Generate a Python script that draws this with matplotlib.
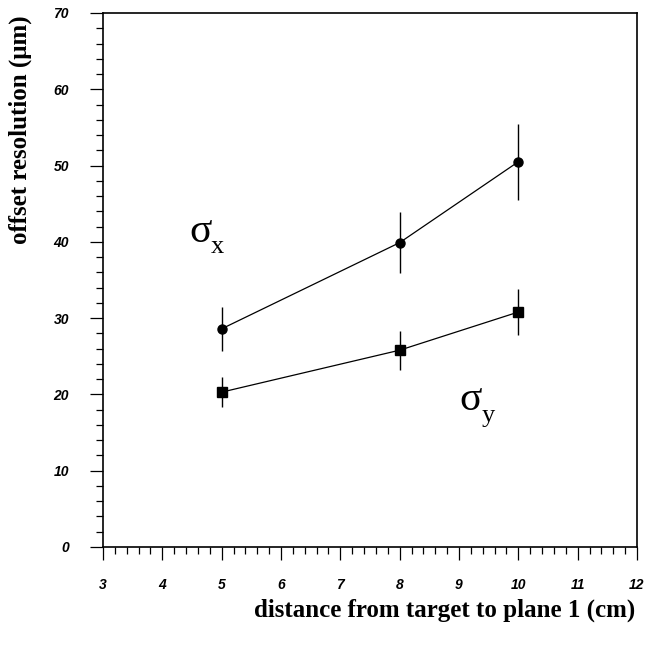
import numpy as np
import matplotlib
matplotlib.use("Agg")
import matplotlib.pyplot as plt
from matplotlib.ticker import MultipleLocator

# distance from target to plane 1 (cm)
dist = [5, 8, 10]
# offset resolution (um) with errors
sig_x = [28.6, 39.9, 50.5]
sig_x_err = [2.9, 4.0, 5.0]
sig_y = [20.3, 25.8, 30.8]
sig_y_err = [2.0, 2.55, 3.05]

xticks = [3, 4, 5, 6, 7, 8, 9, 10, 11, 12]
yticks = [0, 10, 20, 30, 40, 50, 60, 70]

serif = "Liberation Serif"
sans = "Liberation Sans"

fig = plt.figure(figsize=(6.48, 6.45), dpi=100)
W, H = 648, 645
ax = fig.add_axes([103 / W, 1 - 547 / H, 534 / W, 534 / H])

ax.errorbar(dist, sig_x, yerr=sig_x_err, fmt="o-", color="black", ms=6.5,
            lw=0.9, elinewidth=1.0, capsize=0)
ax.errorbar(dist, sig_y, yerr=sig_y_err, fmt="s-", color="black", ms=6.5,
            lw=0.9, elinewidth=1.0, capsize=0)

ax.set_xlim(3, 12)
ax.set_ylim(0, 70)
ax.set_xticks(xticks)
ax.set_yticks(yticks)
ax.xaxis.set_minor_locator(MultipleLocator(0.2))
ax.yaxis.set_minor_locator(MultipleLocator(2))
ax.tick_params(which="major", direction="out", length=9.5, width=0.9, color="black")
ax.tick_params(which="minor", direction="out", length=4.8, width=0.9, color="black")
ax.tick_params(axis="x", which="major", pad=13)
ax.tick_params(axis="y", which="major", pad=15)
for s in ax.spines.values():
    s.set_linewidth(1.2)

for lab in ax.get_xticklabels() + ax.get_yticklabels():
    lab.set_fontfamily(sans)
    lab.set_fontweight("bold")
    lab.set_fontstyle("italic")
    lab.set_fontsize(10)

fig.text(635 / W, 1 - 617 / H, "distance from target to plane 1 (cm)",
         family=serif, weight="bold", fontsize=18, ha="right", va="baseline")
fig.text(9 / W, 1 - 15 / H, "offset resolution (\u03bcm)", family=serif,
         weight="bold", fontsize=18, rotation=90, ha="left", va="top")

# curve labels
ax.text(4.45, 40.0, "\u03c3", family=serif, fontsize=30, ha="left", va="baseline")
ax.text(4.82, 38.5, "x", family=serif, fontsize=19, ha="left", va="baseline")
ax.text(9.0, 18.0, "\u03c3", family=serif, fontsize=30, ha="left", va="baseline")
ax.text(9.38, 16.4, "y", family=serif, fontsize=19, ha="left", va="baseline")

fig.savefig("out.png", dpi=100)
